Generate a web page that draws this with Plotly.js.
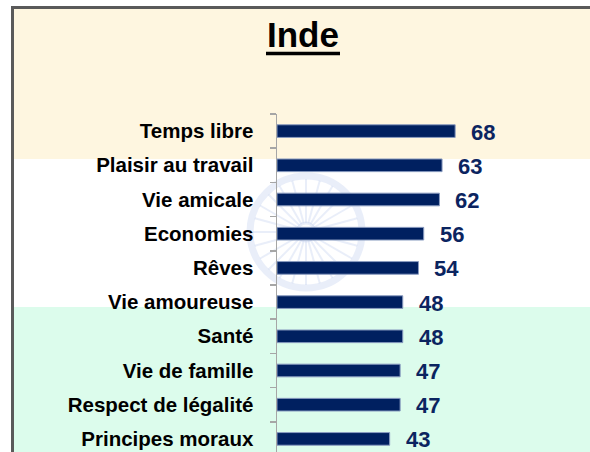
<!DOCTYPE html>
<html>
<head>
<meta charset="utf-8">
<script src="https://cdn.plot.ly/plotly-3.0.1.min.js"></script>
<style>html,body{margin:0;padding:0;background:#fff;}#chart{width:590px;height:452px;}</style>
</head>
<body>
<div id="chart"></div>
<script>
const categories = ["Temps libre","Plaisir au travail","Vie amicale","Economies","Rêves","Vie amoureuse","Santé","Vie de famille","Respect de légalité","Principes moraux"];
const values = [68, 63, 62, 56, 54, 48, 48, 47, 47, 43];
const valueLabels = ["68","63","62","56","54","48","48","47","47","43"];
const chartTitle = "Inde";

const W = 590, H = 452;
const mL = 277, mR = 10, mT = 114, mB = 0;
const pw = W - mL - mR, ph = H - mT - mB;
const px = x => (x - mL) / pw;
const py = y => (H - mB - y) / ph;

const shapes = [];
// background bands
shapes.push({type:'rect', xref:'paper', yref:'paper', x0:px(14), x1:px(600), y0:py(9), y1:py(159), fillcolor:'#FEF6E0', line:{width:0}, layer:'below'});
shapes.push({type:'rect', xref:'paper', yref:'paper', x0:px(14), x1:px(600), y0:py(307), y1:py(460), fillcolor:'#DCFCEC', line:{width:0}, layer:'below'});
// frame
shapes.push({type:'line', xref:'paper', yref:'paper', x0:px(12.5), x1:px(12.5), y0:py(7), y1:py(460), line:{color:'#5a5a5a', width:3}, layer:'below'});
shapes.push({type:'line', xref:'paper', yref:'paper', x0:px(11), x1:px(600), y0:py(7.5), y1:py(7.5), line:{color:'#5a5a5a', width:3}, layer:'below'});
// title underline
shapes.push({type:'line', xref:'paper', yref:'paper', x0:px(266), x1:px(340), y0:py(53.5), y1:py(53.5), line:{color:'#000', width:3.5}, layer:'above'});
// faint wheel watermark
const cx = 306, cy = 232, R = 56;
const wc = 'rgba(175,195,235,0.28)';
shapes.push({type:'circle', xref:'paper', yref:'paper', x0:px(cx-R), x1:px(cx+R), y0:py(cy+R), y1:py(cy-R), line:{color:wc, width:7}, layer:'below'});
shapes.push({type:'circle', xref:'paper', yref:'paper', x0:px(cx-9), x1:px(cx+9), y0:py(cy+9), y1:py(cy-9), line:{color:wc, width:3}, layer:'below'});
for (let k = 0; k < 24; k++) {
  const a = k * Math.PI / 12;
  shapes.push({type:'line', xref:'paper', yref:'paper',
    x0:px(cx + 9*Math.cos(a)), y0:py(cy + 9*Math.sin(a)),
    x1:px(cx + (R-3)*Math.cos(a)), y1:py(cy + (R-3)*Math.sin(a)),
    line:{color:wc, width:2}, layer:'below'});
}

const annotations = categories.map((c, i) => ({
  x: values[i], y: c, xref:'x', yref:'y', text: '<b>'+valueLabels[i]+'</b>',
  showarrow:false, xanchor:'left', yanchor:'middle', xshift:14, yshift:-1,
  font:{family:'Liberation Sans, Arial, sans-serif', size:22, color:'#0B2460'}
}));

const data = [{
  type:'bar', orientation:'h', x: values, y: categories,
  marker:{color:'#002060', line:{color:'#8A9CC0', width:1}},
  width:0.37, hoverinfo:'none'
}];

const layout = {
  width: W, height: H,
  margin:{l:mL, r:mR, t:mT, b:mB, pad:0},
  paper_bgcolor:'#ffffff', plot_bgcolor:'rgba(0,0,0,0)',
  showlegend:false,
  title:{text:'<b>'+chartTitle+'</b>', x:303/W, xanchor:'center', xref:'container', y:1-35/H, yanchor:'middle', yref:'container',
    font:{family:'Liberation Sans, Arial, sans-serif', size:35, color:'#000'}},
  xaxis:{range:[0, pw/2.62], showgrid:false, zeroline:false, showline:false, showticklabels:false, ticks:'', fixedrange:true},
  yaxis:{type:'category', categoryorder:'array', categoryarray:categories,
    range:[-0.5 + ph/34.2, -0.5], showgrid:false, zeroline:false,
    showline:true, linecolor:'#A6A6A6', linewidth:1.5,
    ticks:'outside', tickson:'boundaries', ticklen:6, tickcolor:'#A6A6A6', tickwidth:1.5,
    ticklabelstandoff:18,
    tickfont:{family:'Liberation Sans, Arial, sans-serif', size:20.5, color:'#000', weight:'bold'}},
  shapes: shapes,
  annotations: annotations
};

Plotly.newPlot('chart', data, layout, {displayModeBar:false, staticPlot:true});
</script>
</body>
</html>
